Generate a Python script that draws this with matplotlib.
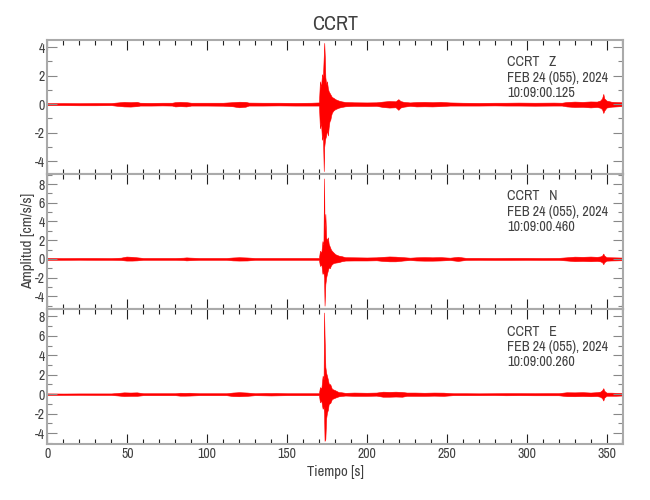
import matplotlib
matplotlib.use("Agg")
import matplotlib.pyplot as plt
from matplotlib import font_manager
from matplotlib.ticker import MultipleLocator

# narrow font if there is one, otherwise the default
narrow = [f.name for f in font_manager.fontManager.ttflist
          if 'Narrow' in f.name or 'Condensed' in f.name]
plt.rcParams['font.family'] = sorted(set(narrow))[:1] + ['DejaVu Sans']
plt.rcParams['font.stretch'] = 'condensed'
plt.rcParams['axes.unicode_minus'] = False

station = "CCRT"
date_str = "FEB 24 (055), 2024"
components = ["Z", "N", "E"]
start_times = ["10:09:00.125", "10:09:00.460", "10:09:00.260"]

# envelope of each trace (upper / lower amplitude, cm/s/s)
t_z = [0, 10, 20, 30, 40, 44, 48, 52, 56, 58, 65, 72, 78, 80, 83, 87, 90, 100, 110,
       116, 120, 124, 126, 135, 145, 155, 165, 170.0, 170.6, 171.3, 171.9, 172.5,
       173.0, 173.3, 173.7, 174.0, 174.5, 175.0, 175.6, 176.1, 176.6, 177.1, 177.6,
       178.1, 179.0, 180.2, 182.3, 184.0, 186.5, 192, 200, 206, 210, 214, 218, 219.7,
       221, 223, 227, 231, 236, 241, 246, 252, 260, 270, 280, 287, 295, 305, 317, 322,
       325, 330, 335, 340, 344, 346, 347.2, 348.0, 348.6, 350, 353, 356, 360.5]
hi_z = [.07, .08, .07, .08, .08, .12, .16, .14, .16, .1, .09, .1, .1, .14, .16, .14, .1, .1, .1,
        .14, .17, .16, .11, .1, .1, .09, .1, .12, 1.6, 1.2, 2.1, 1.9,
        3.4, 4.3, 3.2, 1.9, 1.4, 1.6, 1.1, 0.9, 0.8, 0.7, 0.6,
        0.5, 0.45, 0.35, 0.25, 0.2, 0.15, .13, .12, .13, .18, .22, .2, .35,
        .22, .16, .12, .15, .16, .14, .16, .12, .1, .09, .1, .1, .11, .1, .11, .1,
        .15, .18, .16, .19, .18, .25, .4, .72, .4, .25, .17, .15, .13]
lo_z = [-.07, -.07, -.08, -.08, -.07, -.12, -.16, -.17, -.14, -.1, -.1, -.09, -.1, -.16, -.14, -.16, -.1, -.1, -.11,
        -.15, -.22, -.18, -.1, -.1, -.09, -.1, -.1, -.1, -1.7, -1.3, -2.5, -2.2,
        -4.7, -3.0, -2.6, -2.4, -2.2, -1.8, -2.2, -1.6, -1.2, -1.1, -0.8,
        -0.6, -0.45, -0.35, -0.25, -0.2, -0.15, -.12, -.13, -.12, -.2, -.24, -.22, -.4,
        -.24, -.18, -.12, -.16, -.15, -.16, -.14, -.1, -.1, -.1, -.09, -.1, -.1, -.11, -.1, -.1,
        -.16, -.2, -.19, -.23, -.2, -.25, -.35, -.62, -.45, -.24, -.18, -.16, -.13]

t_n = [0, 10, 20, 30, 40, 46, 49.5, 53, 56, 60, 70, 80, 85, 87, 89, 95, 105, 112,
       116, 120, 125, 130, 140, 150, 160, 170.0, 170.6, 171.5, 172.2, 172.8,
       173.2, 173.5, 174.0, 174.5, 175.0, 175.6, 176.1, 176.8, 177.5, 178.1,
       179.0, 180.2, 182.3, 184.0, 186.5, 192, 200, 206, 210, 214, 218, 223,
       227, 231, 236, 241, 246, 252, 257, 262, 270, 280, 290, 300, 310, 320, 325,
       330, 335, 340, 344, 346, 347.2, 348.0, 348.6, 350, 353, 356, 360.5]
hi_n = [.1, .09, .1, .1, .09, .13, .25, .22, .17, .1, .1, .1, .13, .16, .14, .1, .1, .1,
        .15, .18, .15, .1, .1, .1, .1, .1, .86, .7, 1.9, 1.5,
        8.6, 3.0, 4.8, 2.3, 2.0, 2.3, 1.6, 1.3, 1.0, .86,
        .7, .5, .35, .3, .18, .17, .15, .17, .22, .26, .24, .18,
        .13, .17, .19, .17, .19, .13, .22, .11, .11, .1, .11, .11, .1, .11, .17,
        .24, .22, .25, .22, .26, .35, .57, .35, .18, .17, .16, .14]
lo_n = [-.1, -.1, -.09, -.1, -.1, -.12, -.18, -.18, -.16, -.1, -.1, -.1, -.12, -.16, -.14, -.1, -.1, -.1,
        -.16, -.18, -.17, -.1, -.1, -.1, -.1, -.1, -.75, -.6, -1.6, -1.4,
        -2.0, -5.0, -2.7, -2.0, -1.6, -1.2, -.9, -1.0, -.7, -.57,
        -.45, -.4, -.35, -.26, -.18, -.17, -.17, -.15, -.22, -.26, -.26, -.17,
        -.12, -.17, -.19, -.19, -.17, -.12, -.22, -.11, -.1, -.11, -.11, -.1, -.11, -.11, -.17,
        -.24, -.22, -.25, -.22, -.26, -.35, -.57, -.35, -.19, -.17, -.16, -.14]

t_e = [0, 10, 20, 30, 40, 44, 48, 52, 56, 60, 70, 80, 83, 86, 89, 95, 105, 112,
       116, 120, 125, 130, 137, 140, 143, 150, 160, 170.0, 170.6, 171.5, 172.3,
       172.9, 173.2, 173.5, 174.0, 174.5, 175.0, 175.6, 176.1, 177.1, 178.1,
       180.2, 182.3, 184.0, 186.5, 192, 200, 206, 210, 214, 218, 222, 225,
       230, 236, 242, 248, 254, 262, 270, 280, 287, 295, 305, 313, 320, 325,
       330, 335, 340, 344, 346, 347.2, 348.0, 348.6, 350, 353, 356, 360.5]
hi_e = [.08, .07, .08, .08, .08, .13, .19, .17, .19, .1, .1, .1, .15, .14, .15, .1, .1, .1,
        .17, .21, .17, .1, .13, .12, .13, .1, .1, .1, .72, .6, 1.9,
        1.5, 8.4, 6.0, 2.8, 2.2, 1.9, 1.5, 1.1, 1.0, .55,
        .4, .22, .2, .14, .17, .15, .17, .26, .24, .26, .23, .17,
        .17, .15, .17, .16, .1, .1, .09, .1, .11, .11, .1, .11, .11, .2,
        .19, .21, .17, .21, .26, .4, .62, .35, .16, .16, .14, .13]
lo_e = [-.08, -.08, -.07, -.08, -.08, -.13, -.19, -.17, -.17, -.1, -.1, -.1, -.15, -.15, -.14, -.1, -.1, -.1,
        -.19, -.21, -.17, -.1, -.12, -.13, -.12, -.1, -.1, -.1, -.82, -.7, -1.5,
        -1.3, -2.0, -4.8, -4.6, -2.5, -1.9, -1.6, -1.0, -.9, -.5,
        -.35, -.22, -.18, -.14, -.17, -.17, -.15, -.26, -.26, -.24, -.26, -.17,
        -.17, -.17, -.15, -.17, -.1, -.1, -.1, -.09, -.11, -.1, -.11, -.11, -.11, -.2,
        -.21, -.19, -.21, -.19, -.26, -.4, -.65, -.35, -.16, -.16, -.16, -.13]

traces = [(t_z, hi_z, lo_z), (t_n, hi_n, lo_n), (t_e, hi_e, lo_e)]
ylims = [(-4.9, 4.5), (-5.3, 9.07), (-5.12, 8.76)]
boxes = [[0.0729, 0.652, 0.886, 0.268],
         [0.0729, 0.383, 0.886, 0.269],
         [0.0729, 0.112, 0.886, 0.270]]

txt_col = '#404040'
fig = plt.figure(figsize=(6.5, 5), dpi=100)

axes = []
for i in range(3):
    ax = fig.add_axes(boxes[i])
    t, hi, lo = traces[i]
    ax.fill_between(t, lo, hi, color='red', edgecolor='red', linewidth=0.4)
    ax.set_xlim(0, 360.5)
    ax.set_ylim(*ylims[i])
    ax.xaxis.set_major_locator(MultipleLocator(50))
    ax.xaxis.set_minor_locator(MultipleLocator(10))
    ax.yaxis.set_major_locator(MultipleLocator(2))
    ax.yaxis.set_minor_locator(MultipleLocator(1))
    ax.tick_params(which='both', direction='in', top=True, right=True,
                   labelsize=10, labelcolor=txt_col, pad=2, width=0.8)
    ax.tick_params(axis='x', which='major', length=7, color='#222222')
    ax.tick_params(axis='x', which='minor', length=3.5, color='#222222')
    ax.tick_params(axis='y', which='major', length=7, color='#888888')
    ax.tick_params(axis='y', which='minor', length=3.5, color='#888888')
    for sp in ax.spines.values():
        sp.set_color('#aaaaaa')
        sp.set_linewidth(1.5)
    if i < 2:
        ax.tick_params(axis='x', labelbottom=False)
    ax.text(0.7986, 0.885, "%s   %s\n%s\n%s" % (station, components[i], date_str, start_times[i]),
            transform=ax.transAxes, ha='left', va='top', fontsize=10.2,
            color=txt_col, linespacing=1.12)
    axes.append(ax)

axes[0].set_title(station, fontsize=14.5, color=txt_col, pad=7)
axes[1].set_ylabel("Amplitud [cm/s/s]", fontsize=11, color=txt_col, labelpad=0)
axes[2].set_xlabel("Tiempo [s]", fontsize=10.5, color=txt_col, labelpad=3)

fig.savefig("out.png", dpi=100)
